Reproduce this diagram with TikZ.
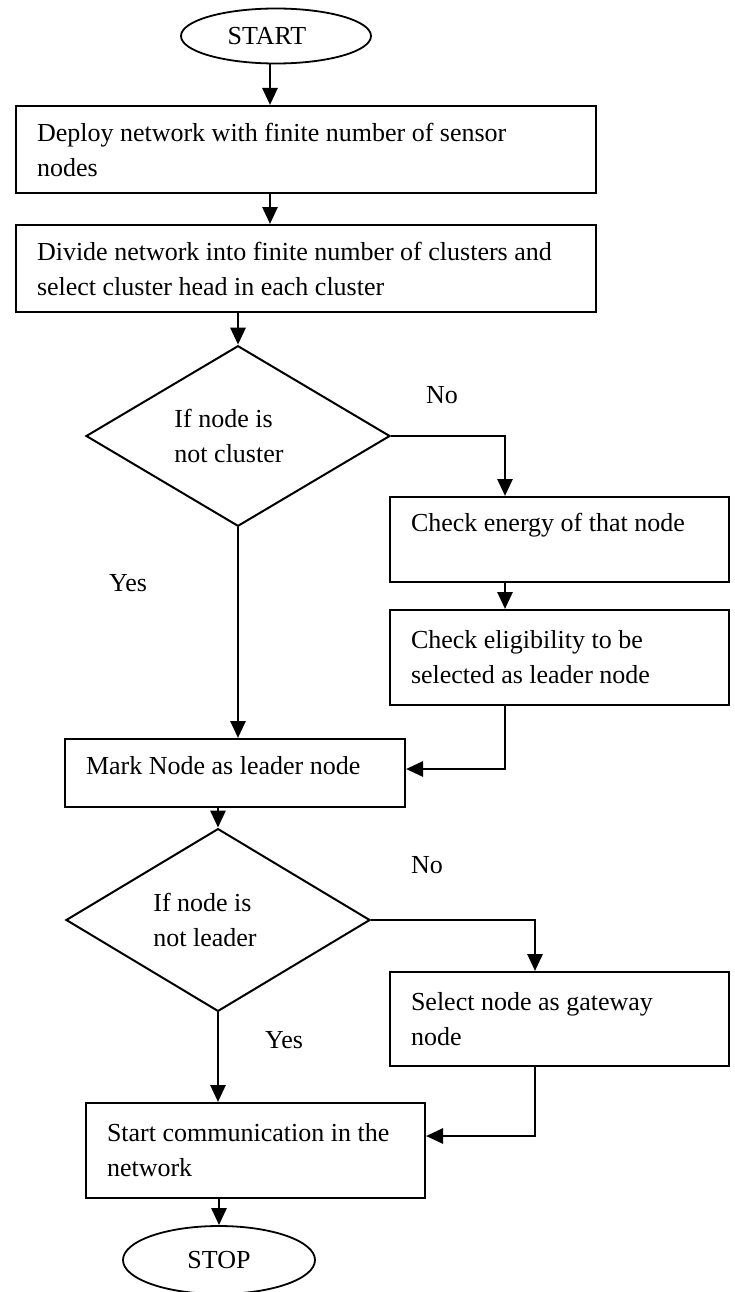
\documentclass[tikz,border=0pt]{standalone}
\usepackage{fontspec}
\setmainfont{Liberation Serif}
\usetikzlibrary{shapes.geometric,arrows.meta}
\begin{document}
\begin{tikzpicture}[x=1pt,y=-1pt,
  every node/.style={font=\fontsize{26pt}{35pt}\selectfont},
  procbox/.style={draw, line width=2pt, rectangle, align=flush left, inner xsep=21pt, inner ysep=0pt},
  decision/.style={draw, line width=2pt, diamond, inner sep=0pt, align=flush left},
  terminal/.style={draw, line width=1.8pt, ellipse, inner sep=0pt},
  conn/.style={line width=2.8pt, -{Triangle[length=17pt,width=15pt]}},
  lbl/.style={inner sep=0pt}]
\useasboundingbox (0,0) rectangle (734,1292);

% terminals
\node[terminal, minimum width=190pt, minimum height=55pt] (start) at (276,36) {START\rule{18pt}{0pt}};
\node[terminal, minimum width=192pt, minimum height=68pt] (stop) at (219,1260) {STOP};

% process boxes
\node[procbox, minimum width=580pt, minimum height=87pt, text width=538pt] (b1) at (306,149.5)
  {Deploy network with finite number of sensor\\nodes};
\node[procbox, minimum width=580pt, minimum height=87pt, text width=538pt] (b2) at (306,268.5)
  {\mbox{Divide network into finite number of clusters and}\\select cluster head in each cluster};
\node[procbox, minimum width=339pt, minimum height=85pt, text width=297pt] (b3) at (559.5,539.5)
  {Check energy of that node\\\mbox{}};
\node[procbox, minimum width=339pt, minimum height=95pt, text width=297pt] (b4) at (559.5,657.5)
  {Check eligibility to be\\selected as leader node};
\node[procbox, minimum width=340pt, minimum height=68pt, text width=298pt, text depth=16pt] (b5) at (235,773)
  {Mark Node as leader node};
\node[procbox, minimum width=339pt, minimum height=94pt, text width=297pt] (b6) at (559.5,1019)
  {Select node as gateway\\node};
\node[procbox, minimum width=339pt, minimum height=95pt, text width=297pt] (b7) at (255.5,1150.5)
  {Start communication in the\\network};

% decisions
\node[decision, minimum width=304pt, minimum height=162pt] (d1) at (238,436)
  {If node is\\not cluster\rule{18pt}{0pt}};
\node[decision, minimum width=304pt, minimum height=162pt] (d2) at (218,920)
  {If node is\\not leader\rule{26pt}{0pt}};

% labels
\node[lbl] (no1) at (442,395) {No};
\node[lbl] (yes1) at (128,583) {Yes};
\node[lbl] (no2) at (427,865) {No};
\node[lbl] (yes2) at (284,1040) {Yes};

% helper coordinates
\coordinate (xa) at (270,0);
\coordinate (xc) at (505,0);
\coordinate (j1) at (505,769);
\coordinate (xd) at (535,0);
\coordinate (j2) at (535,1136);

% connectors
\draw[conn] (start.south -| xa) -- (b1.north -| xa);
\draw[conn] (b1.south -| xa) -- (b2.north -| xa);
\draw[conn] (b2.south -| d1.north) -- (d1.north);
\draw[conn] (d1.east) -| (b3.north -| xc);
\draw[conn] (b3.south -| xc) -- (b4.north -| xc);
\draw[conn] (b4.south -| xc) -- (j1) -- (b5.east |- j1);
\draw[conn] (d1.south) -- (b5.north -| d1.south);
\draw[conn] (b5.south -| d2.north) -- (d2.north);
\draw[conn] (d2.east) -| (b6.north -| xd);
\draw[conn] (b6.south -| xd) -- (j2) -- (b7.east |- j2);
\draw[conn] (d2.south) -- (b7.north -| d2.south);
\draw[conn] (b7.south -| stop.north) -- (stop.north);
\end{tikzpicture}
\end{document}
